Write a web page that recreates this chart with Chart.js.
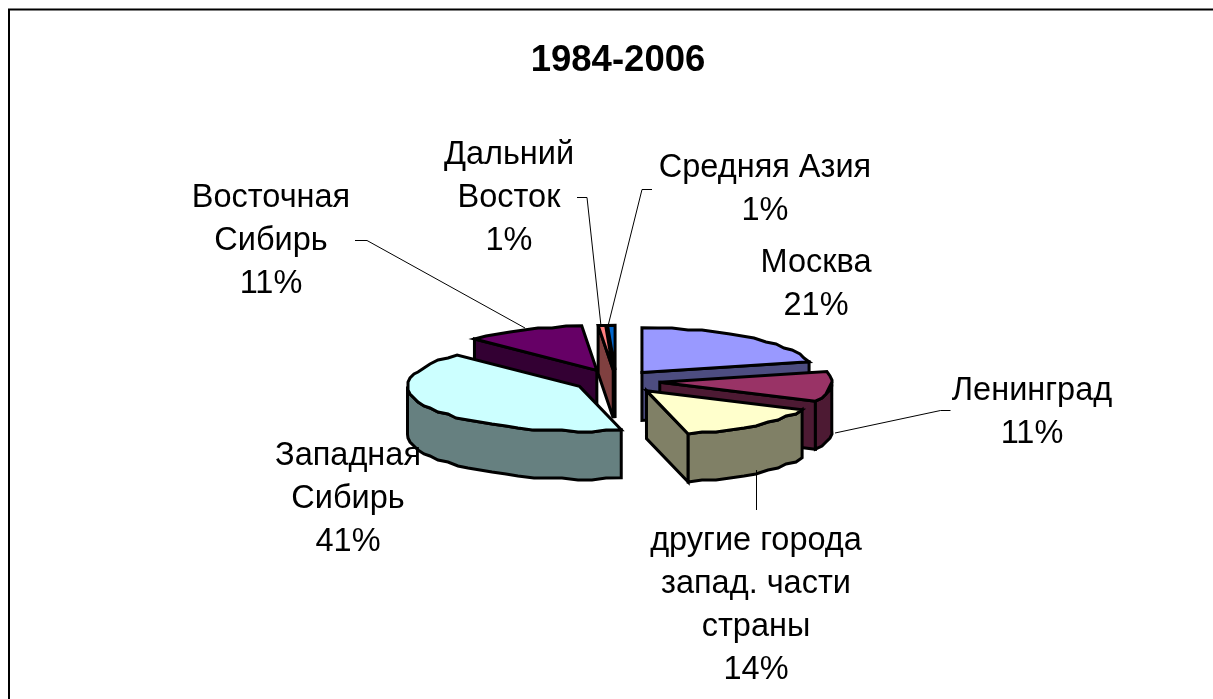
<!DOCTYPE html>
<html><head><meta charset="utf-8">
<script src="https://cdn.jsdelivr.net/npm/chart.js@4"></script>
<style>html,body{margin:0;padding:0;background:#fff;overflow:hidden}canvas{display:block}</style>
</head><body><canvas id="c" width="1213" height="699"></canvas>
<script>
const categories = ["Москва","Ленинград","другие города запад. части страны","Западная Сибирь","Восточная Сибирь","Дальний Восток","Средняя Азия"];
const shares = [21.2,10.8,14.1,41.3,11.2,0.7,0.7];
const topColors = ["#9999FF","#993366","#FFFFCC","#CCFFFF","#660066","#FF8080","#0066CC"];
const wallColors = ["#4D4D80","#4D1A33","#808066","#668080","#330033","#804040","#003366"];
const explode = [42,44,48,42,45,42,42];
const labelLines = [["Москва"],["Ленинград"],["другие города","запад. части","страны"],["Западная","Сибирь"],["Восточная","Сибирь"],["Дальний","Восток"],["Средняя Азия"]];
const labelAnchors = [[816,263],[1032,391],[756,541],[348,456],[271,198],[509,155],[765,168]];
const leaders = [null,[[950.5,410.5],[940.5,410.5],[835,433]],[[756.5,470],[756.5,510]],null,[[355,240.5],[367,240.5],[525,328]],[[577,197.5],[587,197.5],[601,326]],[[652,189.5],[642,189.5],[608,326]]];
const pie3d = {cx:616, cy:381, k:0.26, depth:48, grid:2, step:5*Math.PI/180};
const fontFamily = '"Liberation Sans", Arial, sans-serif';

const pie3dPlugin = {
  id:'pie3d',
  beforeDraw(chart){
    const c = chart.ctx;
    c.save(); c.fillStyle='#fff'; c.fillRect(0,0,chart.width,chart.height);
    c.strokeStyle='#000'; c.lineWidth=2;
    c.beginPath(); c.moveTo(9,chart.height); c.lineTo(9,9.5); c.lineTo(chart.width,9.5); c.stroke();
    c.restore();
  },
  beforeDatasetsDraw(chart){
    const c = chart.ctx, els = chart.getDatasetMeta(0).data, P = pie3d;
    const snap = v => Math.round(v/P.grid)*P.grid;
    const slices = els.map((el,i)=>{
      const d = el.options.offset, mid=(el.startAngle+el.endAngle)/2;
      return {i, s:el.startAngle, e:el.endAngle, r:el.outerRadius,
        ax:P.cx+Math.cos(mid)*d, ay:P.cy+Math.sin(mid)*d*P.k};
    }).sort((a,b)=>a.ay-b.ay);
    const arcPts=(sl,from,to)=>{
      const pts=[], n=Math.max(1,Math.round((to-from)/P.step));
      for(let j=0;j<=n;j++){
        const a=from+(to-from)*j/n;
        let x=sl.ax+Math.cos(a)*sl.r, y=sl.ay+Math.sin(a)*sl.r*P.k;
        if(j>0&&j<n){x=snap(x);y=snap(y);}
        pts.push([x,y]);
      }
      return pts;
    };
    const poly=(pts,fill)=>{
      c.beginPath(); pts.forEach((p,j)=>j?c.lineTo(p[0],p[1]):c.moveTo(p[0],p[1])); c.closePath();
      c.fillStyle=fill; c.fill(); c.stroke();
    };
    c.save(); c.strokeStyle='#000'; c.lineWidth=3; c.lineJoin='miter'; c.miterLimit=6;
    slices.forEach(sl=>{
      const wall=wallColors[sl.i], dp=P.depth;
      const rim=(a)=>[sl.ax+Math.cos(a)*sl.r, sl.ay+Math.sin(a)*sl.r*P.k];
      const face=(a)=>{const q=rim(a);poly([[sl.ax,sl.ay],q,[q[0],q[1]+dp],[sl.ax,sl.ay+dp]],wall);};
      if(Math.cos(sl.s)<-1e-6) face(sl.s);
      if(Math.cos(sl.e)>1e-6) face(sl.e);
      const f=Math.max(sl.s,0), t=Math.min(sl.e,Math.PI);
      if(t>f){
        const top=arcPts(sl,f,t);
        const low=top.slice().reverse().map(p=>[p[0],p[1]+dp]);
        poly(top.concat(low),wall);
      }
      poly([[sl.ax,sl.ay]].concat(arcPts(sl,sl.s,sl.e)),topColors[sl.i]);
    });
    c.restore();
    return false;
  },
  afterDraw(chart){
    const c=chart.ctx, total=shares.reduce((a,b)=>a+b,0);
    c.save();
    c.strokeStyle='#000'; c.lineWidth=1;
    leaders.forEach(l=>{ if(!l) return;
      c.beginPath(); l.forEach((p,j)=>j?c.lineTo(p[0],p[1]):c.moveTo(p[0],p[1])); c.stroke(); });
    c.fillStyle='#000'; c.font='32.5px '+fontFamily; c.textAlign='center'; c.textBaseline='middle';
    labelLines.forEach((lines,i)=>{
      const [x,y]=labelAnchors[i];
      lines.concat([Math.round(shares[i]/total*100)+'%']).forEach((t,j)=>c.fillText(t,x,y+j*43));
    });
    c.restore();
  }
};

new Chart(document.getElementById('c'),{
  type:'pie',
  data:{labels:categories,datasets:[{data:shares,backgroundColor:topColors,offset:explode,borderWidth:0}]},
  options:{
    responsive:false,animation:false,radius:172,rotation:0,
    layout:{padding:{left:23,right:0,top:0,bottom:0}},
    plugins:{legend:{display:false},tooltip:{enabled:false},
      title:{display:true,text:'1984-2006',color:'#000',
        font:{family:fontFamily,size:36.5,weight:'bold',lineHeight:1.2},padding:{top:39,bottom:0}}}
  },
  plugins:[pie3dPlugin]
});
</script></body></html>
